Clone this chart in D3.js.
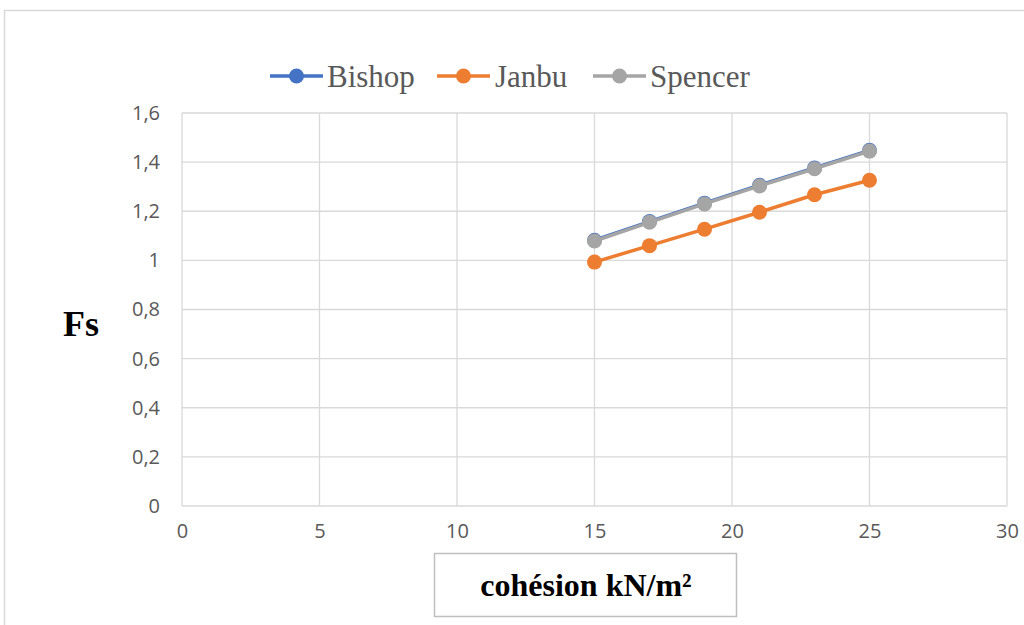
<!DOCTYPE html>
<html>
<head>
<meta charset="utf-8">
<script src="https://cdn.jsdelivr.net/npm/d3@7"></script>
<style>
  html, body { margin: 0; padding: 0; background: #fff; }
  svg { display: block; }
</style>
</head>
<body>
<svg id="chart" width="1024" height="625"></svg>
<script>
// Cohesion values (kN/m²) and factors of safety per method
const cohesion = [15, 17, 19, 21, 23, 25];
const bishop   = [1.082, 1.158, 1.233, 1.306, 1.376, 1.448];
const janbu    = [0.993, 1.060, 1.127, 1.196, 1.267, 1.326];
const spencer  = [1.079, 1.155, 1.230, 1.303, 1.373, 1.445];
const seriesNames  = ["Bishop", "Janbu", "Spencer"];
const seriesColors = ["#4472C4", "#ED7D31", "#A5A5A5"];
const xTicks = [0, 5, 10, 15, 20, 25, 30];
const yTicks = [0, 0.2, 0.4, 0.6, 0.8, 1, 1.2, 1.4, 1.6];

const series = [bishop, janbu, spencer].map((vals, i) => ({
  name: seriesNames[i],
  color: seriesColors[i],
  points: cohesion.map((c, j) => ({ x: c, y: vals[j] }))
}));

const svg = d3.select("#chart");
const plot = { left: 182, right: 1007, top: 113, bottom: 506 };

const x = d3.scaleLinear().domain([0, 30]).range([plot.left, plot.right]);
const y = d3.scaleLinear().domain([0, 1.6]).range([plot.bottom, plot.top]);

// Outer chart frame (partly beyond the viewport)
svg.append("rect")
  .attr("x", 4.5).attr("y", 10.5)
  .attr("width", 1040).attr("height", 640)
  .attr("fill", "none").attr("stroke", "#d9d9d9").attr("stroke-width", 1.5);

// Gridlines
const grid = svg.append("g").attr("stroke", "#d9d9d9").attr("stroke-width", 1.3);
grid.selectAll("line.h").data(yTicks).join("line")
  .attr("x1", plot.left).attr("x2", plot.right)
  .attr("y1", d => y(d)).attr("y2", d => y(d));
grid.selectAll("line.v").data(xTicks).join("line")
  .attr("y1", plot.top).attr("y2", plot.bottom)
  .attr("x1", d => x(d)).attr("x2", d => x(d));

const fmt = d => String(d).replace(".", ",");
const tickFont = "'Open Sans', 'Liberation Sans', sans-serif";

// Axes (labels only)
const yAxis = svg.append("g")
  .attr("transform", `translate(${plot.left},0)`)
  .call(d3.axisLeft(y).tickValues(yTicks).tickFormat(fmt).tickSize(0).tickPadding(22));
yAxis.select(".domain").remove();
yAxis.selectAll("text")
  .attr("font-family", tickFont)
  .attr("font-size", 20).attr("fill", "#595959");

const xAxis = svg.append("g")
  .attr("transform", `translate(0,${plot.bottom})`)
  .call(d3.axisBottom(x).tickValues(xTicks).tickFormat(fmt).tickSize(0).tickPadding(18));
xAxis.select(".domain").remove();
xAxis.selectAll("text")
  .attr("font-family", tickFont)
  .attr("font-size", 20).attr("fill", "#595959");

// Series lines and markers (Spencer drawn last, on top)
const line = d3.line().x(d => x(d.x)).y(d => y(d.y));
series.forEach(s => {
  const g = svg.append("g");
  g.append("path")
    .attr("d", line(s.points))
    .attr("fill", "none").attr("stroke", s.color).attr("stroke-width", 3.5);
  g.selectAll("circle").data(s.points).join("circle")
    .attr("cx", d => x(d.x)).attr("cy", d => y(d.y)).attr("r", 7.5)
    .attr("fill", s.color);
});

// Legend
const legendItems = [
  { x0: 270, tx: 327 },
  { x0: 437, tx: 495 },
  { x0: 593, tx: 650 }
];
series.forEach((s, i) => {
  const li = legendItems[i];
  const g = svg.append("g");
  g.append("line")
    .attr("x1", li.x0).attr("x2", li.x0 + 53).attr("y1", 76).attr("y2", 76)
    .attr("stroke", s.color).attr("stroke-width", 3.5);
  g.append("circle").attr("cx", li.x0 + 26.5).attr("cy", 76).attr("r", 7.5).attr("fill", s.color);
  g.append("text")
    .attr("x", li.tx).attr("y", 87)
    .attr("font-family", "'Liberation Serif', 'Times New Roman', serif")
    .attr("font-size", 31).attr("fill", "#595959")
    .text(s.name);
});

// Y axis title
svg.append("text")
  .attr("x", 81).attr("y", 336)
  .attr("text-anchor", "middle")
  .attr("font-family", "'Liberation Serif', 'Times New Roman', serif")
  .attr("font-weight", "bold").attr("font-size", 36).attr("fill", "#000")
  .text("Fs");

// X axis title in a framed box
svg.append("rect")
  .attr("x", 434.5).attr("y", 553.5).attr("width", 302).attr("height", 63)
  .attr("fill", "#fff").attr("stroke", "#bfbfbf").attr("stroke-width", 1.5);
svg.append("text")
  .attr("x", 586).attr("y", 596)
  .attr("text-anchor", "middle")
  .attr("font-family", "'Liberation Serif', 'Times New Roman', serif")
  .attr("font-weight", "bold").attr("font-size", 32).attr("fill", "#000")
  .text("cohésion kN/m²");
</script>
</body>
</html>
